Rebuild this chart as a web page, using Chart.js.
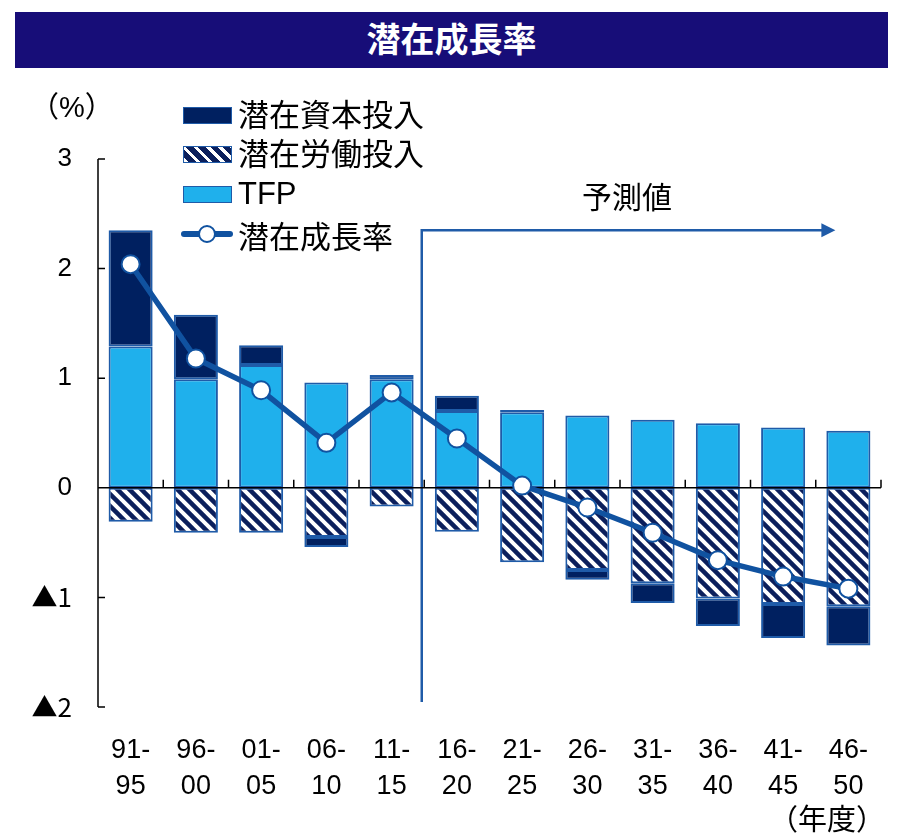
<!DOCTYPE html>
<html>
<head>
<meta charset="utf-8">
<script src="https://cdn.jsdelivr.net/npm/chart.js@4.4.1/dist/chart.umd.min.js"></script>
<style>
body { margin: 0; background: #fff; }
#wrap { position: relative; width: 904px; height: 840px; font-family: "Liberation Sans", "Noto Sans CJK JP", sans-serif; color: #000; }
#chart { position: absolute; left: 0; top: 0; }
.title { position: absolute; left: 15px; top: 12px; width: 873px; height: 56px; background: #170d78; color: #fff; font-weight: bold; font-size: 34px; line-height: 56px; text-align: center; }
.txt { position: absolute; font-size: 31px; line-height: 1; white-space: nowrap; }
.icon { position: absolute; left: 183px; width: 47px; height: 15px; border: 1px solid #1f5ba8; }
</style>
</head>
<body>
<div id="wrap">
  <canvas id="chart" width="904" height="840"></canvas>
  <div class="title">潜在成長率</div>
  <div class="txt" style="left:30px; top:93px; font-size:29px;">（%）</div>

  <!-- legend -->
  <div class="icon" style="top:107px; background:#002060;"></div>
  <div class="icon" style="top:146px; background:repeating-linear-gradient(45deg,#fff 0 3.5px,#0b1f5c 3.5px 8.5px);"></div>
  <div class="icon" style="top:186px; background:#1fb0ec;"></div>
  <div style="position:absolute; left:181px; top:231px; width:52px; height:6px; background:#1052a0; border-radius:3px;"></div>
  <div style="position:absolute; left:198px; top:225px; width:14px; height:14px; background:#fff; border:2px solid #1052a0; border-radius:50%;"></div>
  <div class="txt" style="left:238px; top:100px;">潜在資本投入</div>
  <div class="txt" style="left:238px; top:139px;">潜在労働投入</div>
  <div class="txt" style="left:238px; top:178px;">TFP</div>
  <div class="txt" style="left:238px; top:222px;">潜在成長率</div>

  <div class="txt" style="left:582px; top:183px; font-size:30px;">予測値</div>
  <div class="txt" style="left:769px; top:806px; font-size:29px;">（年度）</div>
</div>

<script>
// categories (fiscal-year ranges)
const categories = [
    ['91-', '95'], ['96-', '00'], ['01-', '05'], ['06-', '10'], ['11-', '15'], ['16-', '20'],
    ['21-', '25'], ['26-', '30'], ['31-', '35'], ['36-', '40'], ['41-', '45'], ['46-', '50']
];

// contributions (%pt)
const capital = [1.06, 0.59, 0.18, -0.09, 0.04, 0.14, 0.02, -0.09, -0.18, -0.25, -0.31, -0.36];
const labor = [-0.31, -0.41, -0.41, -0.45, -0.17, -0.40, -0.68, -0.75, -0.87, -1.01, -1.06, -1.08];
const tfp = [1.29, 0.99, 1.12, 0.96, 0.99, 0.70, 0.69, 0.66, 0.62, 0.59, 0.55, 0.52];

// potential growth rate (%)
const potential = [2.04, 1.18, 0.89, 0.41, 0.87, 0.45, 0.02, -0.18, -0.41, -0.66, -0.81, -0.92];

const yTicks = [-2, -1, 0, 1, 2, 3];
const forecastStart = 5;

const NAVY = '#002060';
const TFP_BLUE = '#1fb0ec';
const EDGE = '#1f5ba8';
const LINE_BLUE = '#1052a0';
const FONT = '"Liberation Sans", "Noto Sans CJK JP", sans-serif';

// diagonal hatch for labor input
function makeHatch() {
    const c = document.createElement('canvas');
    c.width = 12; c.height = 12;
    const g = c.getContext('2d');
    g.fillStyle = '#fff';
    g.fillRect(0, 0, 12, 12);
    g.strokeStyle = '#0b1f5c';
    g.lineWidth = 4.5;
    for (let x = -12; x <= 12; x += 12) {
        g.beginPath();
        g.moveTo(x - 2, -2);
        g.lineTo(x + 14, 14);
        g.stroke();
    }
    return g.createPattern(c, 'repeat');
}

// axis lines with inward ticks, drawn above bars but under the line
const axesPlugin = {
    id: 'axes',
    afterDatasetDraw(chart, args) {
        if (args.index !== 1) return;
        const { ctx, chartArea: a, scales: { x, y } } = chart;
        const y0 = y.getPixelForValue(0);
        ctx.save();
        ctx.strokeStyle = '#000';
        ctx.lineWidth = 1.5;
        ctx.beginPath();
        ctx.moveTo(a.left, a.top);
        ctx.lineTo(a.left, a.bottom);
        yTicks.forEach(v => {
            const py = y.getPixelForValue(v);
            ctx.moveTo(a.left, py);
            ctx.lineTo(a.left + 7, py);
        });
        ctx.moveTo(a.left, y0);
        ctx.lineTo(a.right, y0);
        for (let i = 1; i <= categories.length; i++) {
            const px = i < categories.length ? (x.getPixelForValue(i - 1) + x.getPixelForValue(i)) / 2 : a.right;
            ctx.moveTo(px, y0);
            ctx.lineTo(px, y0 - 8);
        }
        ctx.stroke();
        ctx.restore();
    }
};

// forecast marker: vertical line + arrow
const forecastPlugin = {
    id: 'forecast',
    beforeDatasetsDraw(chart) {
        const { ctx, chartArea: a, scales: { x, y } } = chart;
        const bx = (x.getPixelForValue(forecastStart - 1) + x.getPixelForValue(forecastStart)) / 2 - 2.5;
        const top = y.getPixelForValue(2.35);
        const tip = x.getPixelForValue(categories.length - 1) - 13;
        ctx.save();
        ctx.strokeStyle = EDGE;
        ctx.fillStyle = EDGE;
        ctx.lineWidth = 2.5;
        ctx.beginPath();
        ctx.moveTo(bx, a.bottom - 5);
        ctx.lineTo(bx, top);
        ctx.lineTo(tip - 12, top);
        ctx.stroke();
        ctx.beginPath();
        ctx.moveTo(tip, top);
        ctx.lineTo(tip - 14, top - 7);
        ctx.lineTo(tip - 14, top + 7);
        ctx.closePath();
        ctx.fill();
        ctx.restore();
    }
};

const hatch = makeHatch();

new Chart(document.getElementById('chart'), {
    type: 'bar',
    data: {
        labels: categories,
        datasets: [
            {
                type: 'line', label: '潜在成長率', data: potential, stack: 'line',
                borderColor: LINE_BLUE, borderWidth: 5.5,
                pointRadius: 9, pointBackgroundColor: '#fff', pointBorderColor: LINE_BLUE, pointBorderWidth: 2,
                tension: 0
            },
            { label: 'TFP', data: tfp, stack: 'bars', backgroundColor: TFP_BLUE, borderColor: EDGE, borderWidth: 2, borderSkipped: false },
            { label: '潜在労働投入', data: labor, stack: 'bars', backgroundColor: hatch, borderColor: EDGE, borderWidth: 2, borderSkipped: false },
            { label: '潜在資本投入', data: capital, stack: 'bars', backgroundColor: NAVY, borderColor: EDGE, borderWidth: 2, borderSkipped: false }
        ]
    },
    options: {
        responsive: false,
        animation: false,
        devicePixelRatio: 1,
        layout: { padding: { top: 159, right: 23, left: 0, bottom: 0 } },
        datasets: { bar: { categoryPercentage: 1, barPercentage: 0.675 } },
        plugins: { legend: { display: false }, title: { display: false }, tooltip: { enabled: false } },
        scales: {
            x: {
                stacked: true,
                grid: { display: false },
                border: { display: false },
                ticks: { color: '#000', font: { family: FONT, size: 27, lineHeight: 1.35 }, padding: 17, maxRotation: 0, autoSkip: false },
                afterFit: s => { s.height = 133; }
            },
            y: {
                stacked: true,
                min: -2, max: 3,
                grid: { display: false },
                border: { display: false },
                ticks: {
                    stepSize: 1, color: '#000', padding: 18,
                    font: ctx => ({
                        family: ctx.tick && ctx.tick.value < 0 ? '"Noto Sans CJK JP", sans-serif' : FONT,
                        size: 26
                    }),
                    callback: v => v < 0 ? '▲' + (-v) : String(v)
                },
                afterFit: s => { s.width = 98; }
            }
        }
    },
    plugins: [forecastPlugin, axesPlugin]
});
</script>
</body>
</html>
